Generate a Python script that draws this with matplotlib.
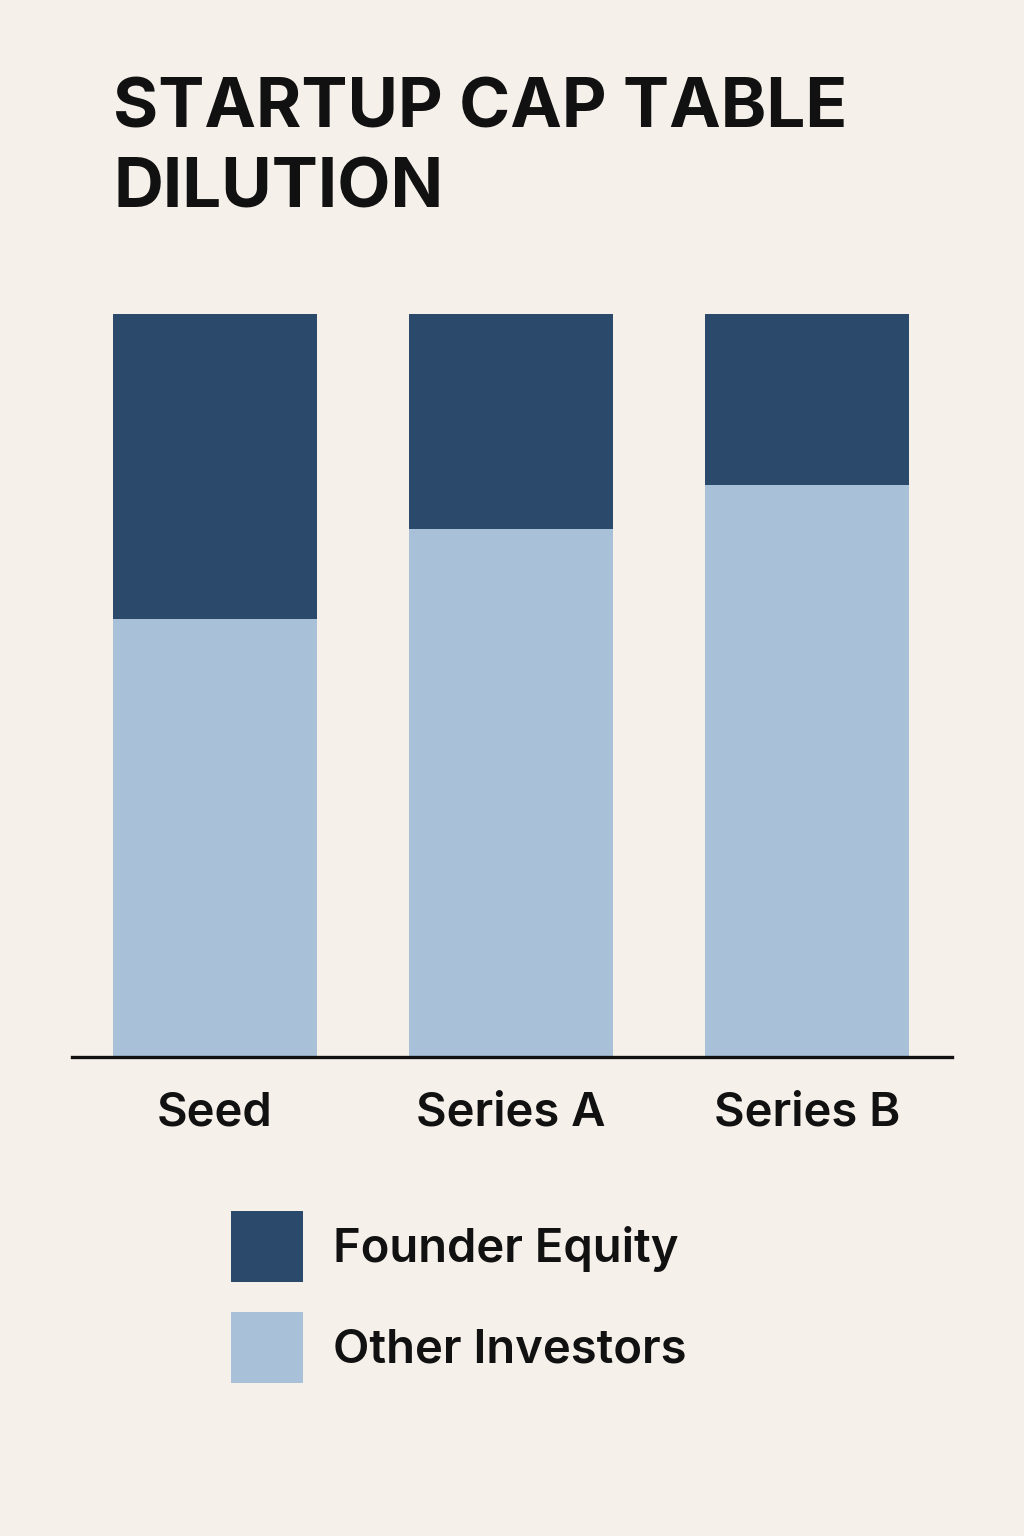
import numpy as np
import matplotlib.pyplot as plt

# data (percent of cap table)
rounds = ["Seed", "Series A", "Series B"]
founder_equity = [41, 29, 23]
other_investors = [59, 71, 77]

BG = "#F6F0EA"
DARK = "#2B4A6B"
LIGHT = "#A9C1D8"
INK = "#111111"

plt.rcParams["font.family"] = ["Inter", "DejaVu Sans"]

fig = plt.figure(figsize=(10.24, 15.36), dpi=100, facecolor=BG)
W, H = 1024, 1536

# axes placed in pixel terms: baseline at y=1057, 100% at y=314
ax = fig.add_axes([72 / W, 1 - 1057 / H, (952 - 72) / W, (1057 - 314) / H])
ax.set_facecolor(BG)

x = np.arange(len(rounds))
width = 0.69
b_other = ax.bar(x, other_investors, width, color=LIGHT, label="Other Investors")
b_founder = ax.bar(x, founder_equity, width, bottom=other_investors,
                   color=DARK, label="Founder Equity")

ax.set_xlim(-0.483, 2.49)
ax.set_ylim(0, 100)

for side in ["top", "right", "left"]:
    ax.spines[side].set_visible(False)
ax.spines["bottom"].set_linewidth(2.4)
ax.spines["bottom"].set_color(INK)
ax.set_yticks([])
ax.set_xticks(x)
ax.set_xticklabels(rounds, fontsize=34, fontweight="semibold", color=INK)
ax.tick_params(axis="x", length=0, pad=25)

fig.text(113 / W, 1 - 77 / H, "STARTUP CAP TABLE\nDILUTION", fontsize=49.8,
         fontweight="bold", color=INK, ha="left", va="top", linespacing=1.33)

fs = 34
leg = fig.legend(handles=[b_founder, b_other],
                 labels=["Founder Equity", "Other Investors"],
                 loc="upper left", bbox_to_anchor=(231 / W, 1 - 1211 / H),
                 frameon=False, fontsize=fs, borderpad=0, borderaxespad=0,
                 handlelength=1.52, handleheight=1.935, handletextpad=0.64,
                 labelspacing=0.64)
for t in leg.get_texts():
    t.set_fontweight("semibold")
    t.set_color(INK)

fig.savefig("out.png", dpi=100, facecolor=BG)
